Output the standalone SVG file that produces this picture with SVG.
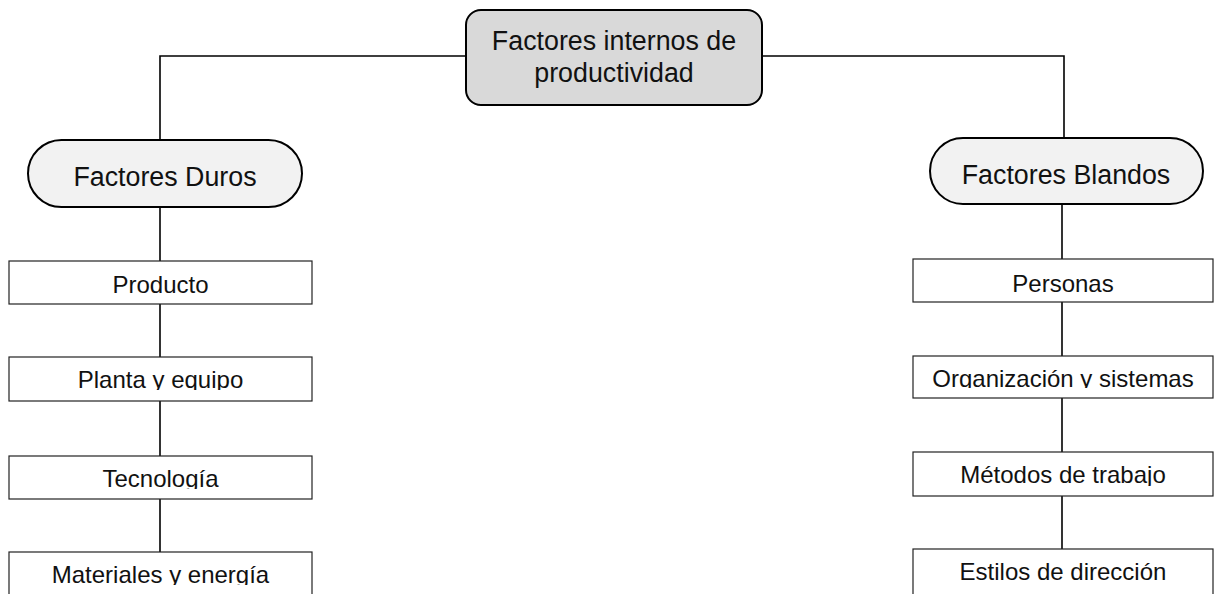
<svg xmlns="http://www.w3.org/2000/svg" width="1214" height="594" viewBox="0 0 1214 594">
<style>
.t{font-family:"Liberation Sans",Arial,sans-serif;fill:#111;text-anchor:middle}
.big{font-size:26.8px}
.sm{font-size:24px}
.box{fill:#fff;stroke:#222;stroke-width:1.2}
.pill{fill:#f2f2f2;stroke:#000;stroke-width:2}
.root{fill:#d9d9d9;stroke:#000;stroke-width:2}
.c{fill:none;stroke:#000;stroke-width:1.6}
</style>
<defs>
<clipPath id="cP"><rect x="9" y="357" width="303" height="33"/></clipPath>
<clipPath id="cT"><rect x="9" y="456" width="303" height="33"/></clipPath>
<clipPath id="cM"><rect x="9" y="552" width="303" height="33"/></clipPath>
<clipPath id="cO"><rect x="913" y="356" width="300" height="32"/></clipPath>
<clipPath id="cW"><rect x="913" y="452" width="300" height="34"/></clipPath>
</defs>
<g id="connectors">
<polyline class="c" points="466,56 160,56 160,140"/>
<polyline class="c" points="762,56 1064,56 1064,138"/>
<line class="c" x1="160" y1="207" x2="160" y2="261"/>
<line class="c" x1="160" y1="304" x2="160" y2="357"/>
<line class="c" x1="160" y1="401" x2="160" y2="456"/>
<line class="c" x1="160" y1="499" x2="160" y2="552"/>
<line class="c" x1="1062" y1="204" x2="1062" y2="259"/>
<line class="c" x1="1062" y1="302" x2="1062" y2="356"/>
<line class="c" x1="1062" y1="398" x2="1062" y2="452"/>
<line class="c" x1="1062" y1="496" x2="1062" y2="549"/>
</g>
<g id="root">
<rect class="root" x="466" y="10" width="296" height="95" rx="15"/>
<text class="t big" x="614" y="50">Factores internos de</text>
<text class="t big" x="614" y="82">productividad</text>
</g>
<g id="duros">
<rect class="pill" x="28" y="140" width="274" height="67" rx="33.5"/>
<text class="t big" x="165" y="186">Factores Duros</text>
</g>
<g id="blandos">
<rect class="pill" x="930" y="138" width="273" height="66" rx="33"/>
<text class="t big" x="1066" y="184">Factores Blandos</text>
</g>
<g id="producto">
<rect class="box" x="9" y="261" width="303" height="43"/>
<text class="t sm" x="160.5" y="293">Producto</text>
</g>
<g id="planta">
<rect class="box" x="9" y="357" width="303" height="44"/>
<text class="t sm" x="160.5" y="388" clip-path="url(#cP)">Planta y equipo</text>
</g>
<g id="tecnologia">
<rect class="box" x="9" y="456" width="303" height="43"/>
<text class="t sm" x="160.5" y="487" clip-path="url(#cT)">Tecnología</text>
</g>
<g id="materiales">
<rect class="box" x="9" y="552" width="303" height="50"/>
<text class="t sm" x="160.5" y="583" clip-path="url(#cM)">Materiales y energía</text>
</g>
<g id="personas">
<rect class="box" x="913" y="259" width="300" height="43"/>
<text class="t sm" x="1063" y="292">Personas</text>
</g>
<g id="organizacion">
<rect class="box" x="913" y="356" width="300" height="42"/>
<text class="t sm" x="1063" y="387" clip-path="url(#cO)">Organización y sistemas</text>
</g>
<g id="metodos">
<rect class="box" x="913" y="452" width="300" height="44"/>
<text class="t sm" x="1063" y="483" clip-path="url(#cW)">Métodos de trabajo</text>
</g>
<g id="estilos">
<rect class="box" x="913" y="549" width="300" height="50"/>
<text class="t sm" x="1063" y="580">Estilos de dirección</text>
</g>
</svg>
